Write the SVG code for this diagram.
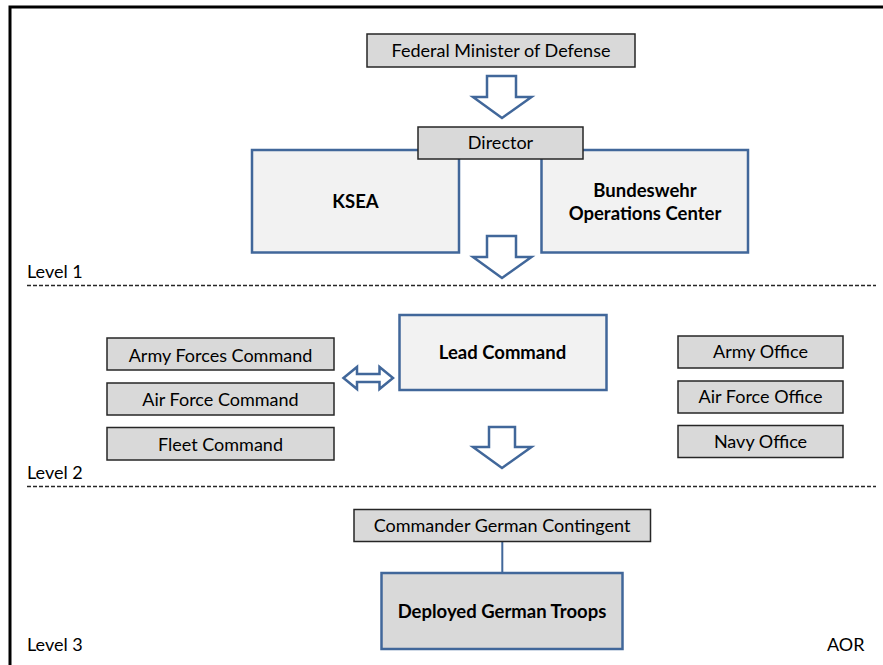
<svg xmlns="http://www.w3.org/2000/svg" width="883" height="665" viewBox="0 0 883 665">
<style>
.g{fill:#d9d9d9;stroke:#262626;stroke-width:1.5}
.b{fill:#f2f2f2;stroke:#41679a;stroke-width:2.5}
.bd{fill:#d9d9d9;stroke:#41679a;stroke-width:2.5}
.ar{fill:#ffffff;stroke:#41679a;stroke-width:2.5;stroke-linejoin:miter}
.t{font-family:Lato,"Liberation Sans",sans-serif;font-size:18px;fill:#000;text-anchor:middle}
.tb{font-family:Lato,"Liberation Sans",sans-serif;font-size:18.5px;font-weight:bold;fill:#000;text-anchor:middle}
.l{font-family:Lato,"Liberation Sans",sans-serif;font-size:18px;fill:#000}
.d{stroke:#262626;stroke-width:1.5;stroke-dasharray:4 2;fill:none}
</style>
<rect width="883" height="665" fill="#ffffff"/>
<path d="M10,665 V7 H883" fill="none" stroke="#000" stroke-width="3"/>
<line class="d" x1="27" y1="285.5" x2="876" y2="285.5"/>
<line class="d" x1="27" y1="486.5" x2="876" y2="486.5"/>
<text class="l" x="27" y="278">Level 1</text>
<text class="l" x="27" y="479">Level 2</text>
<text class="l" x="27" y="651">Level 3</text>
<text class="l" x="827" y="651">AOR</text>
<g id="connectors">
<path class="ar" d="M487,76 H516 V97 H531.5 L502,118 L473,97 H487 Z"/>
<path class="ar" d="M487,236 H516 V257 H531.5 L502,278 L473,257 H487 Z"/>
<path class="ar" d="M489,427 H515 V447 H531.5 L502,468 L473,447 H489 Z"/>
<path class="ar" d="M343.5,378 L357,367 V374 H379.5 V367 L393,378 L379.5,389 V382 H357 V389 Z"/>
<line x1="502.3" y1="541.7" x2="502.3" y2="573" stroke="#41679a" stroke-width="2"/>
</g>
<g id="fmod"><rect class="g" x="367" y="34" width="268" height="33"/><text class="t" x="501" y="57">Federal Minister of Defense</text></g>
<g id="ksea"><rect class="b" x="252" y="150" width="207" height="102.5"/><text class="tb" x="355.5" y="208">KSEA</text></g>
<g id="boc"><rect class="b" x="541.5" y="150" width="206.5" height="102.5"/><text class="tb" x="645" y="197">Bundeswehr</text><text class="tb" x="645" y="220">Operations Center</text></g>
<g id="director"><rect class="g" x="418" y="127" width="165" height="32"/><text class="t" x="500.5" y="149">Director</text></g>
<g id="lead"><rect class="b" x="399.5" y="315" width="207" height="75"/><text class="tb" x="502.5" y="359">Lead Command</text></g>
<g id="afc"><rect class="g" x="107" y="338" width="227" height="32"/><text class="t" x="220.5" y="361.5">Army Forces Command</text></g>
<g id="aifc"><rect class="g" x="107" y="383" width="227" height="32"/><text class="t" x="220.5" y="406">Air Force Command</text></g>
<g id="fc"><rect class="g" x="107" y="427.5" width="227" height="32.5"/><text class="t" x="220.5" y="450.5">Fleet Command</text></g>
<g id="ao"><rect class="g" x="678" y="336" width="165" height="32"/><text class="t" x="760.5" y="357.5">Army Office</text></g>
<g id="afo"><rect class="g" x="678" y="381" width="165" height="32"/><text class="t" x="760.5" y="402.5">Air Force Office</text></g>
<g id="no"><rect class="g" x="678" y="425.5" width="165" height="32"/><text class="t" x="760.5" y="447.5">Navy Office</text></g>
<g id="cgc"><rect class="g" x="354" y="509.5" width="296.5" height="32"/><text class="t" x="502" y="531.5">Commander German Contingent</text></g>
<g id="dgt"><rect class="bd" x="381.5" y="573" width="241" height="76"/><text class="tb" x="502" y="618">Deployed German Troops</text></g>
</svg>
